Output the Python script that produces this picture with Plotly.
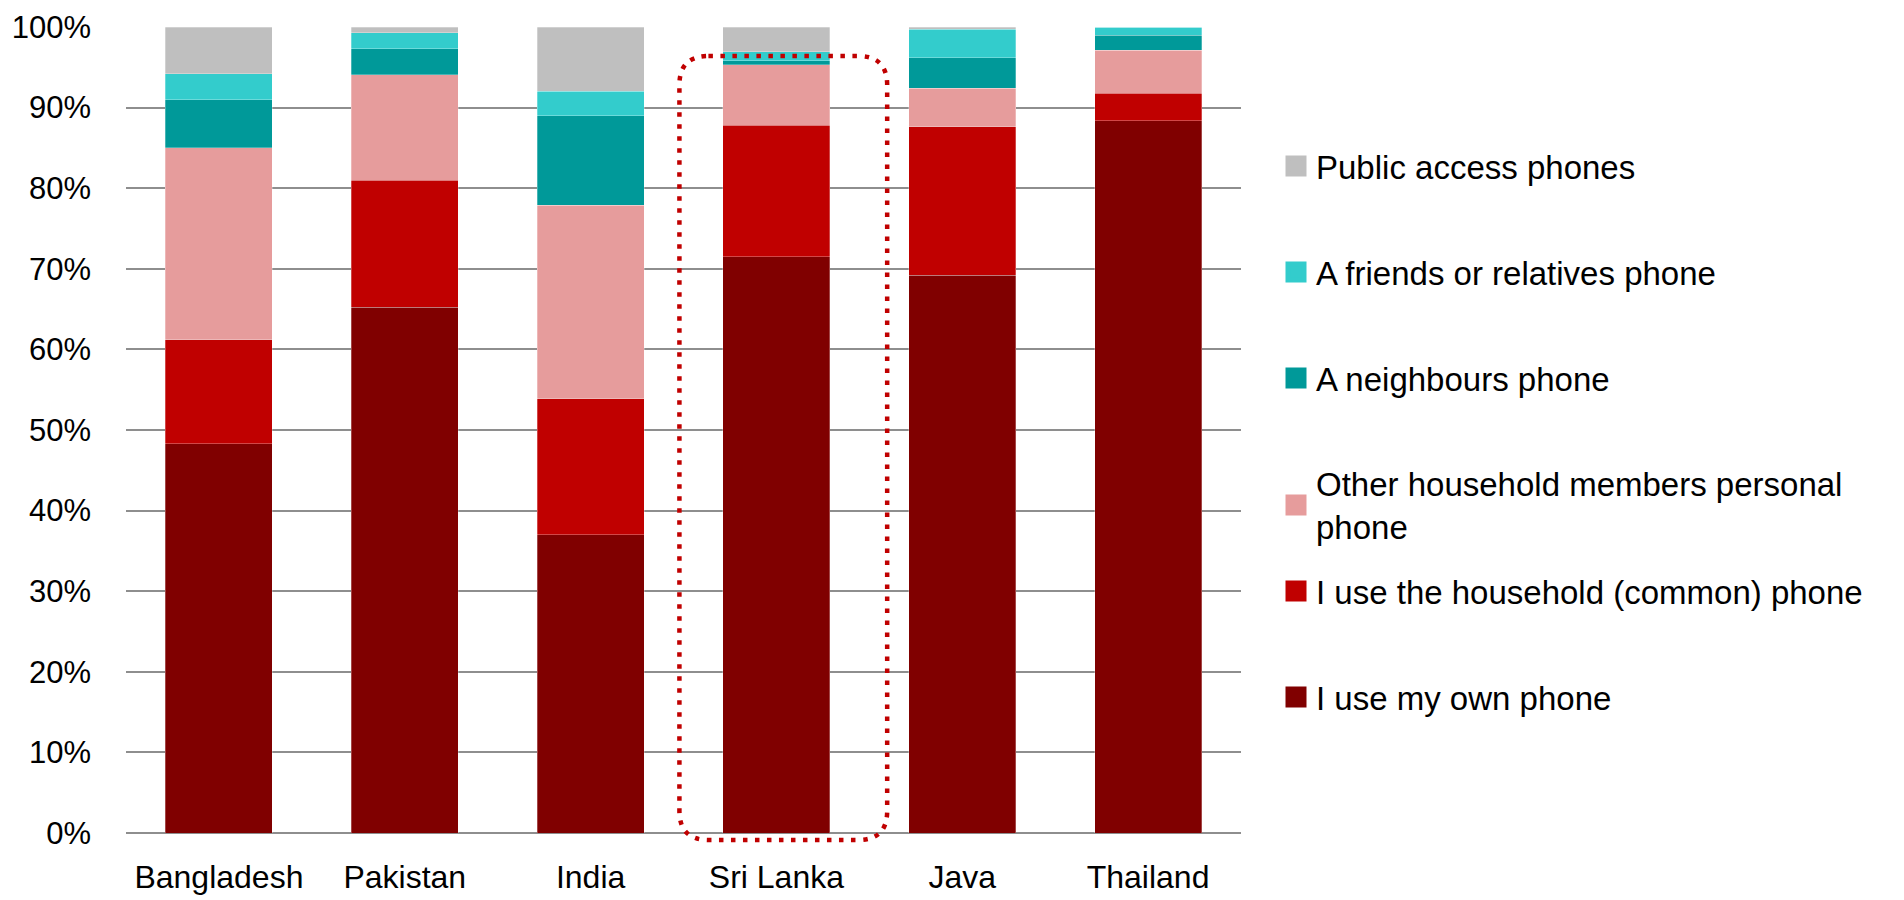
import plotly.graph_objects as go

categories = ["Bangladesh", "Pakistan", "India", "Sri Lanka", "Java", "Thailand"]

own_phone = [48.3, 65.2, 37.0, 71.5, 69.2, 88.4]
household_phone = [12.9, 15.8, 16.9, 16.3, 18.4, 3.4]
other_member_phone = [23.8, 13.1, 24.0, 7.5, 4.8, 5.3]
neighbour_phone = [6.0, 3.2, 11.1, 0.5, 3.8, 1.9]
friend_phone = [3.2, 2.0, 3.0, 1.1, 3.5, 1.0]
public_phone = [5.8, 0.7, 8.0, 3.1, 0.3, 0.0]

series_names = [
    "I use my own phone",
    "I use the household (common) phone",
    "Other household members personal<br>phone",
    "A neighbours phone",
    "A friends or relatives phone",
    "Public access phones",
]
series_values = [own_phone, household_phone, other_member_phone,
                 neighbour_phone, friend_phone, public_phone]
series_colors = ["#800000", "#C00000", "#E69C9C", "#009999", "#33CCCC", "#BFBFBF"]

# legend marker centre (pixels from top of the 900px page) for each series
legend_px = [697, 591, 505, 378, 272, 166]

FONT = "Liberation Sans, Arial, sans-serif"
W, H = 1904, 900
L, R, T, B = 126, 663, 27, 67
plot_h = H - T - B
plot_w = W - L - R

fig = go.Figure()
for i, (name, vals, col) in enumerate(zip(series_names, series_values, series_colors)):
    fig.add_trace(go.Bar(
        x=categories, y=vals, name=name.replace("<br>", " "),
        marker=dict(color=col, line=dict(color="rgba(255,255,255,0.35)", width=0.8)),
        showlegend=False,
        hovertemplate="%{x}: %{y:.1f}%<extra>" + name.replace("<br>", " ") + "</extra>",
    ))

# legend entries (square swatches, one legend box per series so they can be spaced freely)
for i, (name, col) in enumerate(zip(series_names, series_colors)):
    lg = "legend" if i == 0 else f"legend{i+1}"
    fig.add_trace(go.Scatter(
        x=[None], y=[None], mode="markers", name=name, legend=lg,
        marker=dict(symbol="square", size=16, color=col, line=dict(color=col, width=5)),
        hoverinfo="skip",
    ))

layout_legends = {}
for i, py in enumerate(legend_px):
    key = "legend" if i == 0 else f"legend{i+1}"
    layout_legends[key] = dict(
        x=(1276 - L) / plot_w,
        y=(H - B - py) / plot_h,
        xanchor="left", yanchor="middle",
        font=dict(family=FONT, size=33, color="#000000"),
        bgcolor="rgba(0,0,0,0)", borderwidth=0,
    )

# dotted rounded highlight around Sri Lanka (paper coordinates)
ci = categories.index("Sri Lanka")
n = len(categories)
x0 = (ci + 0.5 - 0.522) / n
x1 = (ci + 0.5 + 0.596) / n
y0 = -0.87 / 100
y1 = 96.4 / 100
rx = 29 / plot_w
ry = 29 / plot_h
path = (f"M {x0+rx},{y1} L {x1-rx},{y1} Q {x1},{y1} {x1},{y1-ry} "
        f"L {x1},{y0+ry} Q {x1},{y0} {x1-rx},{y0} "
        f"L {x0+rx},{y0} Q {x0},{y0} {x0},{y0+ry} "
        f"L {x0},{y1-ry} Q {x0},{y1} {x0+rx},{y1} Z")

fig.update_layout(
    width=W, height=H,
    barmode="stack", bargap=0.424,
    showlegend=True,
    plot_bgcolor="white", paper_bgcolor="white",
    margin=dict(l=L, r=R, t=T, b=B, pad=0, autoexpand=False),
    font=dict(family=FONT, size=30, color="#000000"),
    shapes=[dict(type="path", xref="paper", yref="paper", path=path,
                 line=dict(color="#C00000", width=4.5, dash="4.5px,7.5px"),
                 layer="above")],
    **layout_legends,
)
fig.update_xaxes(
    showgrid=False, showline=False, zeroline=False, ticks="",
    tickfont=dict(family=FONT, size=32, color="#000000"),
    ticklabelstandoff=22, automargin=False,
)
fig.update_yaxes(
    range=[0, 100], dtick=10, ticksuffix="%",
    showgrid=True, gridcolor="#8E8E8E", gridwidth=2,
    zeroline=True, zerolinecolor="#8E8E8E", zerolinewidth=2,
    showline=False, ticks="",
    tickfont=dict(family=FONT, size=31, color="#000000"),
    ticklabelstandoff=34, automargin=False,
)

fig.write_html("out.html", config={"displayModeBar": False},
               post_script="document.body.style.margin='0';")
